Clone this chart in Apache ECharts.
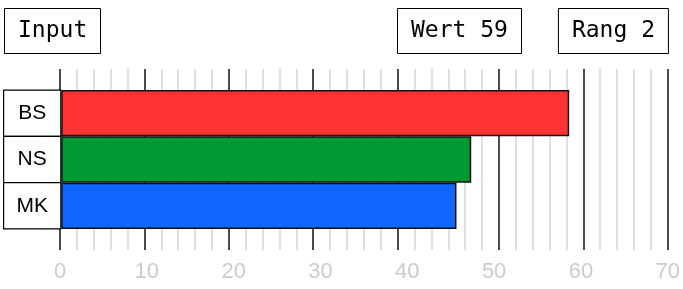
<!DOCTYPE html>
<html>
<head>
<meta charset="utf-8">
<script src="https://cdn.jsdelivr.net/npm/echarts@6/dist/echarts.min.js"></script>
<style>
  html, body { margin: 0; padding: 0; background: #fff; }
  #chart { width: 683px; height: 289px; }
</style>
</head>
<body>
<div id="chart"></div>
<script>
// Daten
const categories = ["BS", "NS", "MK"];
const values = [58.6, 47.3, 45.6];
const headerLeft = "Input";
const headerValue = "Wert 59";
const headerRank = "Rang 2";
// Gitter: 36 feine Linien, die dicken Linien liegen auf diesen Indizes
const gridSteps = 36;
const majorLines = [0, 5, 10, 15, 20, 26, 31, 36];
const tickLabels = [0, 10, 20, 30, 40, 50, 60, 70];

const barColors = ["#ff3333", "#009933", "#1166ff"];

const chart = echarts.init(document.getElementById("chart"), null, { renderer: "canvas" });

// Linienfarben je Index (schwarz fuer Hauptlinien)
const stepCats = [];
const lineColors = [];
for (let i = 0; i <= gridSteps; i++) {
    stepCats.push(String(i));
    lineColors.push(majorLines.includes(i) ? "#111" : "#d4d4d4");
}

const boxTitle = (text, pos) => Object.assign({
    text: text,
    top: 8,
    padding: [11, 14, 10, 14],
    borderColor: "#000",
    borderWidth: 1,
    textStyle: {
        fontFamily: "DejaVu Sans Mono",
        fontSize: 23,
        fontWeight: "normal",
        color: "#000",
        lineHeight: 25,
    },
}, pos);

const option = {
    animation: false,
    backgroundColor: "#fff",
    title: [
        boxTitle(headerLeft, { left: 4 }),
        boxTitle(headerValue, { left: 397 }),
        boxTitle(headerRank, { right: 14 }),
    ],
    grid: [
        { left: 60, right: 15, top: 69, bottom: 39 },  // Linien
        { left: 60, right: 15, top: 90, bottom: 60 },  // Balken
    ],
    xAxis: [
        {
            gridIndex: 0,
            type: "category",
            position: "top",
            data: stepCats,
            boundaryGap: false,
            axisLine: { show: false },
            axisTick: { show: false },
            axisLabel: { show: false },
            splitLine: {
                show: true,
                interval: 0,
                lineStyle: { color: lineColors, width: 1.5 },
            },
        },
        {
            gridIndex: 0,
            type: "value",
            position: "bottom",
            min: tickLabels[0],
            max: tickLabels[tickLabels.length - 1],
            interval: 10,
            axisLine: { show: false },
            axisTick: { show: false },
            splitLine: { show: false },
            axisLabel: {
                margin: 11,
                color: "#cccccc",
                fontFamily: "Liberation Sans",
                fontSize: 22,
            },
        },
        {
            gridIndex: 1,
            type: "value",
            min: tickLabels[0],
            max: tickLabels[tickLabels.length - 1],
            show: false,
        },
    ],
    yAxis: [
        {
            gridIndex: 0,
            type: "value",
            show: false,
        },
        {
            gridIndex: 1,
            type: "category",
            data: categories,
            inverse: true,
            axisLine: { show: false },
            axisTick: { show: false },
            axisLabel: {
                interval: 0,
                hideOverlap: false,
                margin: 29,
                align: "center",
                width: 56,
                height: 45,
                lineHeight: 45,
                backgroundColor: "#fff",
                borderColor: "#000",
                borderWidth: 1.2,
                color: "#000",
                fontFamily: "Liberation Sans",
                fontSize: 21,
            },
        },
    ],
    series: [
        {
            type: "bar",
            xAxisIndex: 2,
            yAxisIndex: 1,
            barCategoryGap: 0,
            data: values.map((v, i) => ({
                value: v,
                itemStyle: { color: barColors[i] },
            })),
            itemStyle: { borderColor: "#111", borderWidth: 1.5 },
        },
    ],
};

chart.setOption(option);
</script>
</body>
</html>
